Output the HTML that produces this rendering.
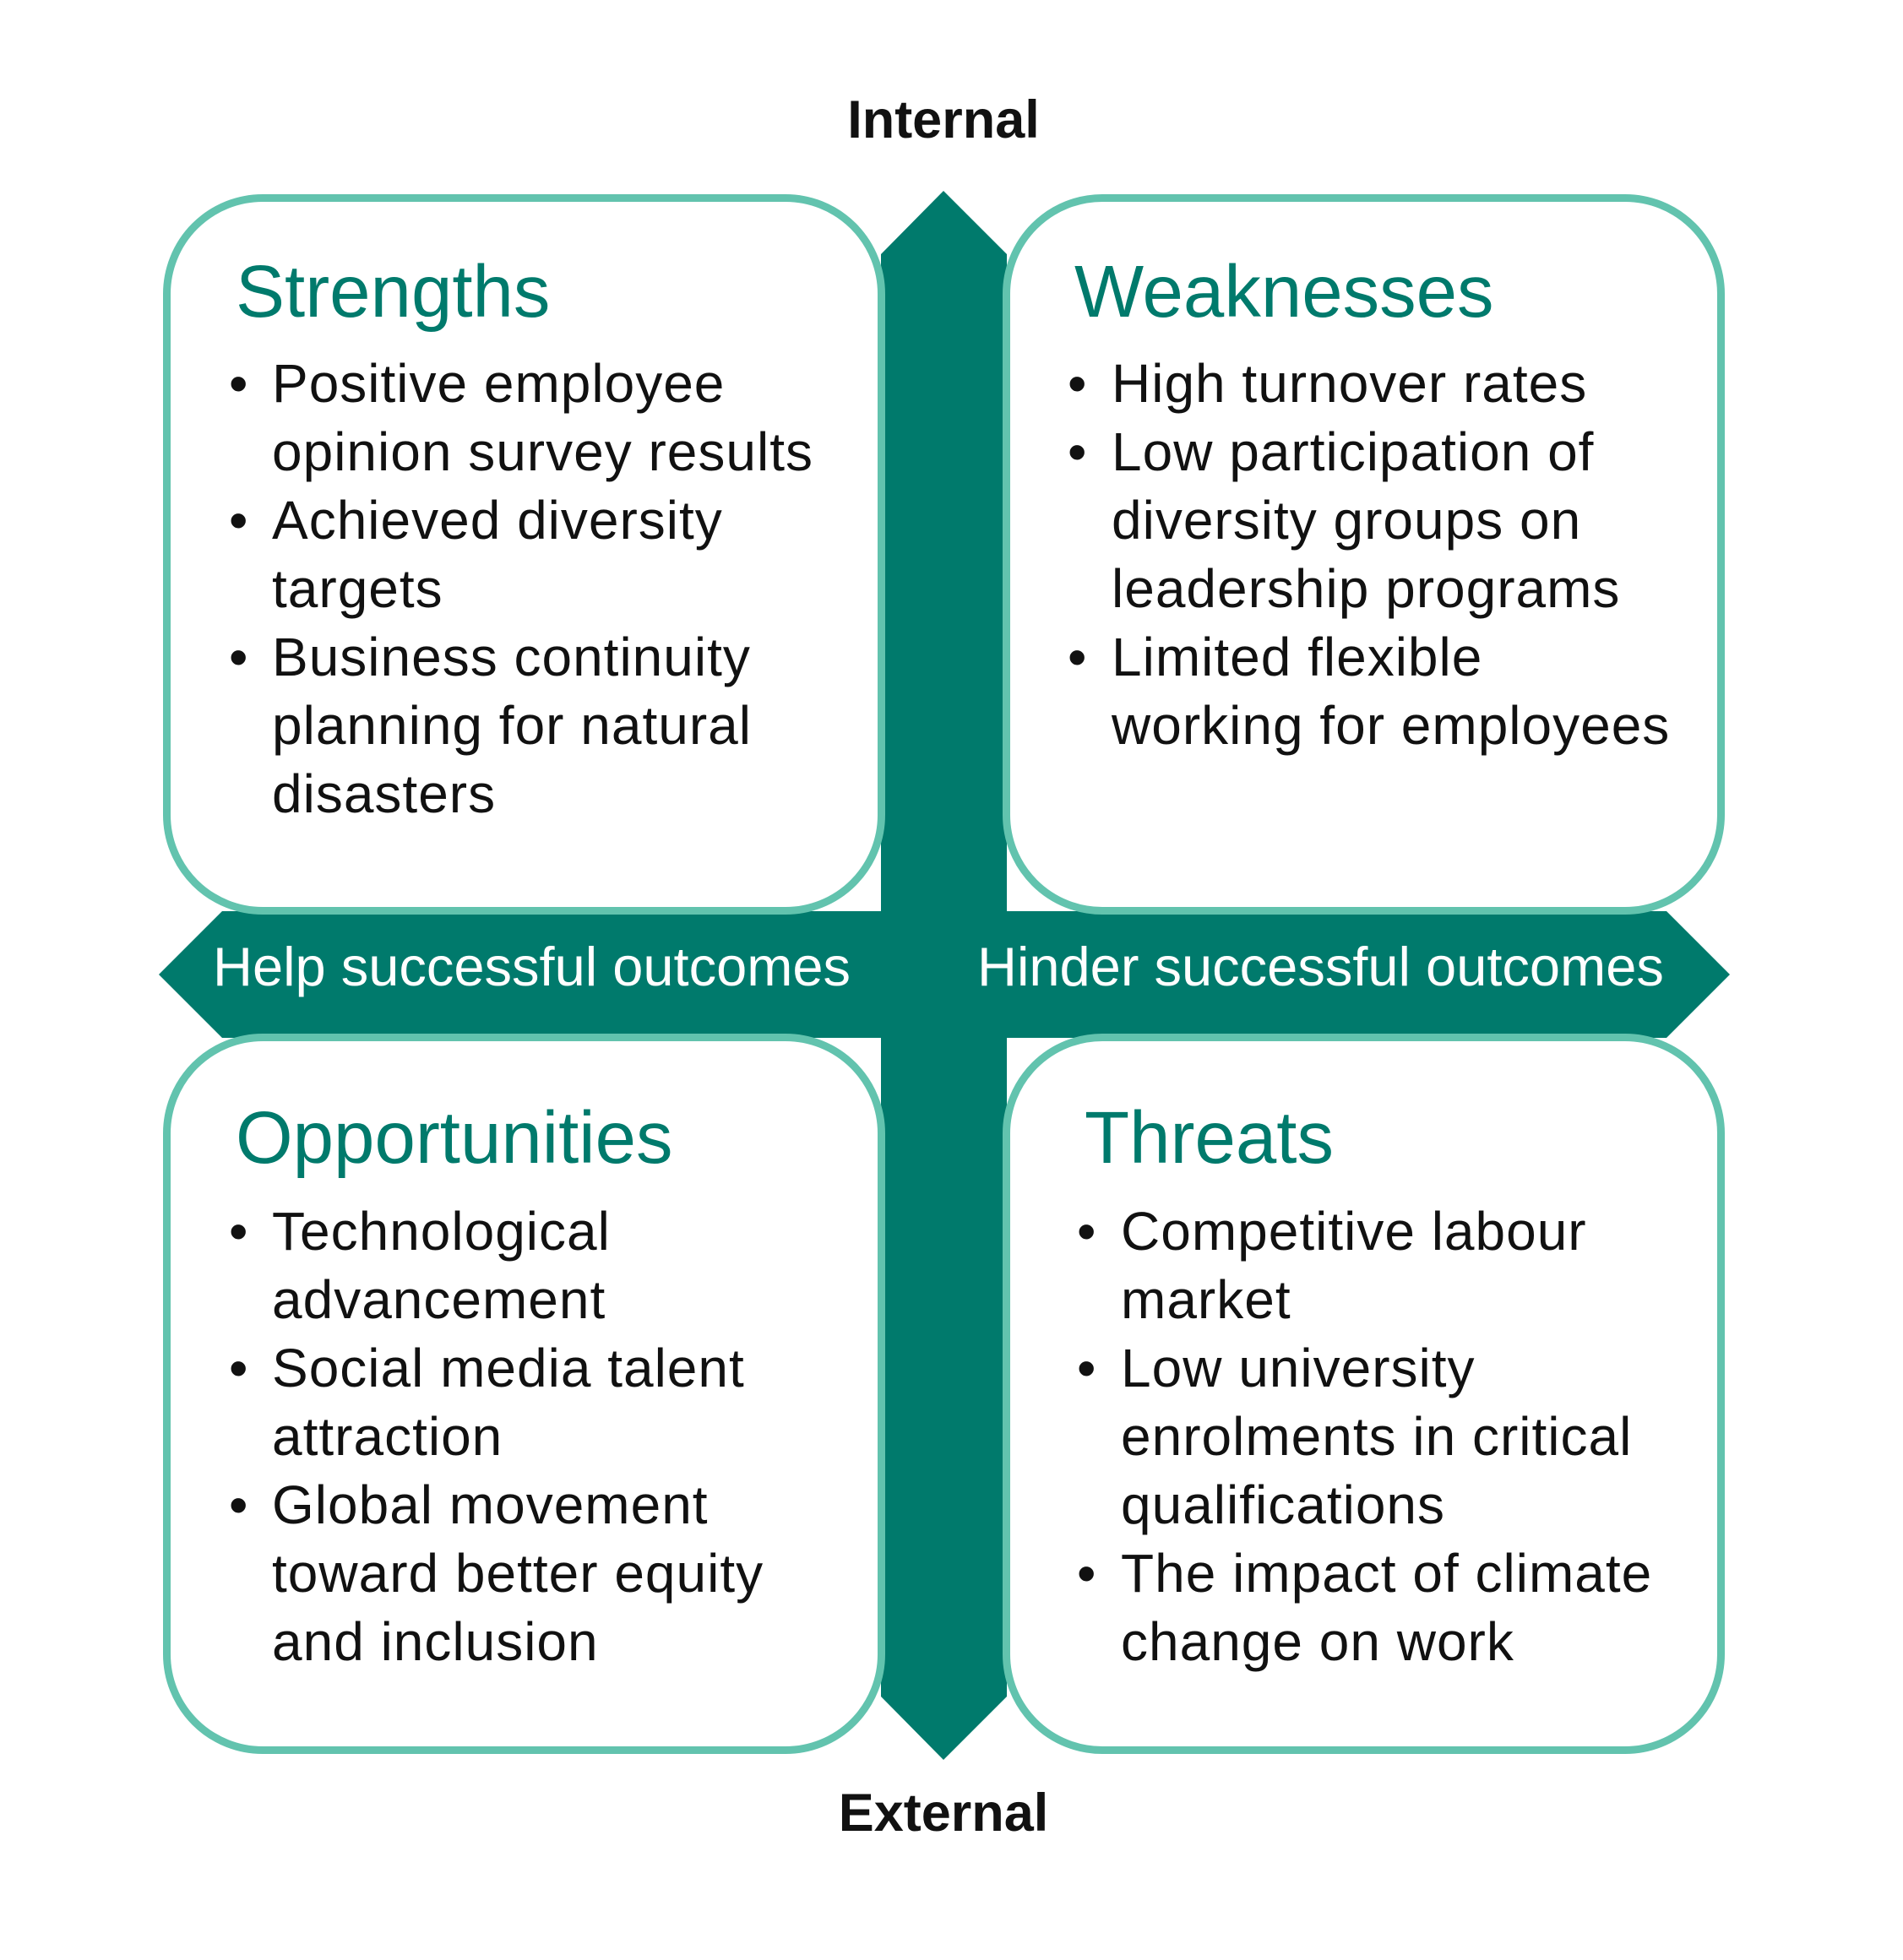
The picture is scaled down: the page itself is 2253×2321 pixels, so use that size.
<!DOCTYPE html>
<html><head><meta charset="utf-8"><style>
body{margin:0;width:2253px;height:2321px;background:#fff;position:relative;overflow:hidden;font-family:"Liberation Sans",sans-serif}
.box{position:absolute;width:855px;height:853px;border:9px solid #62C3AE;border-radius:118px;background:#fff;box-sizing:border-box}
.t{position:absolute;white-space:nowrap;line-height:1}
.h{font-size:87px;color:#007A6C}
.b{font-size:64px;color:#111;letter-spacing:1px}
.w{font-size:65px;color:#fff}
.c{font-size:63px;color:#111;font-weight:bold;width:600px;text-align:center}
</style></head><body>
<svg width="2253" height="2321" style="position:absolute;left:0;top:0">
<polygon fill="#007A6C" points="1117,226 1192,301 1192,1079 1973,1079 2048,1154 1973,1229 1192,1229 1192,2009 1117,2084 1043,2009 1043,1229 263,1229 188,1154 263,1079 1043,1079 1043,301"/>
</svg>
<div class="box" style="left:193px;top:230px"></div>
<div class="box" style="left:1187px;top:230px"></div>
<div class="box" style="left:193px;top:1224px"></div>
<div class="box" style="left:1187px;top:1224px"></div>

<div class="t c" style="left:817px;top:111px">Internal</div>
<div class="t c" style="left:817px;top:2116px">External</div>

<div class="t w" style="left:252px;top:1112px">Help successful outcomes</div>
<div class="t w" style="left:1157px;top:1112px">Hinder successful outcomes</div>

<div class="t h" style="left:279px;top:302px">Strengths</div>
<div class="t b" style="left:271px;top:414px;line-height:81px">•<br><br>•<br><br>•</div>
<div class="t b" style="left:322px;top:414px;line-height:81px">Positive employee<br>opinion survey results<br>Achieved diversity<br>targets<br>Business continuity<br>planning for natural<br>disasters</div>

<div class="t h" style="left:1272px;top:302px">Weaknesses</div>
<div class="t b" style="left:1264px;top:414px;line-height:81px">•<br>•<br><br><br>•</div>
<div class="t b" style="left:1316px;top:414px;line-height:81px">High turnover rates<br>Low participation of<br>diversity groups on<br>leadership programs<br>Limited flexible<br>working for employees</div>

<div class="t h" style="left:279px;top:1304px">Opportunities</div>
<div class="t b" style="left:271px;top:1418px;line-height:81px">•<br><br>•<br><br>•</div>
<div class="t b" style="left:322px;top:1418px;line-height:81px">Technological<br>advancement<br>Social media talent<br>attraction<br>Global movement<br>toward better equity<br>and inclusion</div>

<div class="t h" style="left:1284px;top:1304px">Threats</div>
<div class="t b" style="left:1275px;top:1418px;line-height:81px">•<br><br>•<br><br><br>•</div>
<div class="t b" style="left:1327px;top:1418px;line-height:81px">Competitive labour<br>market<br>Low university<br>enrolments in critical<br>qualifications<br>The impact of climate<br>change on work</div>
</body></html>
